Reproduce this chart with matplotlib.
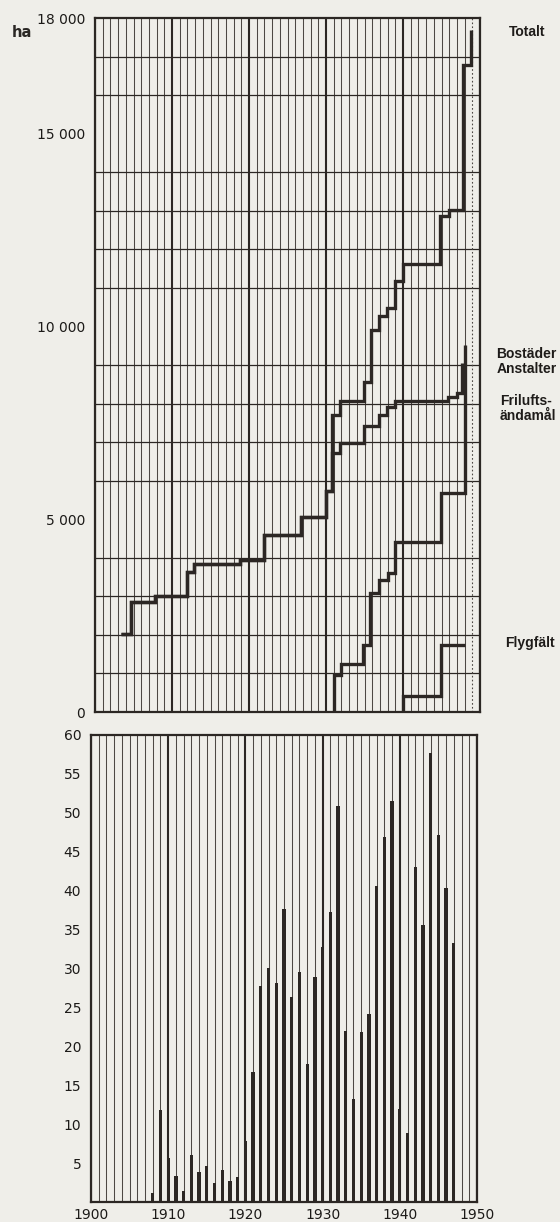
import matplotlib.pyplot as plt
import matplotlib.transforms as mtransforms
import numpy as np

plt.rcParams['font.family'] = ['DejaVu Sans']

totalt_x = [1903.4, 1904.7, 1907.8, 1911.9, 1912.9, 1918.8, 1922.0, 1926.8, 1930.0, 1930.8,
            1931.8, 1934.9, 1935.8, 1936.9, 1937.9, 1939.0, 1940.0, 1944.8, 1946.0, 1947.8, 1948.8]
totalt_y = [2020, 2850, 3020, 3640, 3830, 3930, 4590, 5060, 5740, 7710,
            8070, 8550, 9910, 10260, 10480, 11190, 11610, 12870, 13010, 16780, 17700]

bostader_x = [1903.4, 1904.7, 1907.8, 1911.9, 1912.9, 1918.8, 1922.0, 1926.8, 1930.0, 1930.8,
              1931.8, 1934.9, 1936.9, 1937.9, 1939.0, 1945.9, 1947.0, 1947.6]
bostader_y = [2020, 2850, 3020, 3640, 3830, 3930, 4590, 5060, 5740, 6720,
              6980, 7430, 7710, 7910, 8060, 8165, 8280, 9050]

frilufts_x = [1931.0, 1931.0, 1931.9, 1934.8, 1935.7, 1936.9, 1938.0, 1939.0, 1944.9, 1948.1]
frilufts_y = [0, 960, 1240, 1745, 3090, 3430, 3615, 4400, 5680, 9520]

flyg_x = [1940.0, 1940.0, 1944.9, 1948.1]
flyg_y = [0, 420, 1730, 1730]

top_ticks = [0, 5000, 10000, 15000, 18000]
top_ticklabels = ['0', '5 000', '10 000', '15 000', '18 000']

# lower panel: yearly bars
bar_years = list(range(1908, 1948))
bar_vals = [1.2, 11.8, 5.6, 3.3, 1.4, 6.0, 3.9, 4.6, 2.5, 4.1,
            2.7, 3.2, 7.9, 16.7, 27.7, 30.1, 28.2, 37.7, 26.4, 29.6,
            17.7, 28.9, 32.8, 37.3, 50.9, 22.0, 13.2, 21.9, 24.2, 40.6,
            46.9, 51.5, 11.9, 8.9, 43.0, 35.6, 57.7, 47.2, 40.4, 33.3]
decades = [1900, 1910, 1920, 1930, 1940, 1950]

paper = '#efeee9'
ink = '#2c2724'
gridc = '#4d4844'

fig = plt.figure(figsize=(5.6, 12.22), dpi=100, facecolor=paper)
ax1 = fig.add_axes([95 / 560, 1 - 712 / 1222, 385 / 560, 694 / 1222], facecolor=paper)
ax2 = fig.add_axes([91 / 560, 1 - 1202 / 1222, 386 / 560, 467 / 1222], facecolor=paper)


def grid_setup(ax, ystep, ymax):
    ax.set_xlim(1900, 1950)
    ax.set_ylim(0, ymax)
    ax.set_xticks(decades)
    ax.set_xticks(np.arange(1900, 1951, 1), minor=True)
    ax.set_yticks(np.arange(0, ymax + 1, ystep), minor=True)
    ax.grid(which='major', axis='x', color=ink, lw=1.5, zorder=1)
    ax.grid(which='minor', axis='x', color=gridc, lw=0.75, zorder=1)
    ax.grid(which='minor', axis='y', color=ink, lw=0.9, zorder=1)
    ax.tick_params(which='both', length=0)
    ax.tick_params(axis='y', pad=7, labelsize=10, labelcolor='#1c1a18')
    for s in ax.spines.values():
        s.set_linewidth(1.6)
        s.set_color(ink)
    ax.set_axisbelow(True)


grid_setup(ax1, 1000, 18000)
ax1.set_xticks([y for y in range(1900, 1951) if y != 1949], minor=True)
ax1.axvline(1949, color=gridc, lw=0.8, ls=(0, (1.5, 2)), zorder=1)
ax1.set_yticks(top_ticks)
ax1.set_yticklabels(top_ticklabels)
ax1.set_xticklabels([])

for xs, ys in [(totalt_x, totalt_y), (bostader_x, bostader_y),
               (frilufts_x, frilufts_y), (flyg_x, flyg_y)]:
    ax1.plot(xs, ys, drawstyle='steps-post', color=ink, lw=2.4, zorder=3,
             solid_joinstyle='miter', solid_capstyle='butt')

tr = mtransforms.blended_transform_factory(ax1.transAxes, ax1.transData)
ax1.text(-0.215, 17630, 'ha', transform=tr, ha='left', va='center', fontsize=10.5,
         fontweight='bold', color='#2a2724')
lab = dict(transform=tr, ha='left', va='center', fontsize=10, fontweight='bold',
           family='Liberation Sans', color='#1e1b19', linespacing=1.1)
ax1.text(1.075, 17630, 'Totalt', **lab)
ax1.text(1.043, 9080, 'Bostäder\nAnstalter', **lab)
ax1.text(1.052, 7880, 'Frilufts-\nändamål', **lab)
ax1.text(1.065, 1790, 'Flygfält', **lab)

grid_setup(ax2, 5, 60)
ax2.set_yticks(np.arange(5, 61, 5))
ax2.set_xticklabels([str(d) for d in decades])
ax2.tick_params(axis='x', pad=4, labelsize=10, labelcolor='#1c1a18')
ax2.bar(bar_years, bar_vals, width=0.42, color=ink, zorder=3)

fig.savefig('out.png', dpi=100, facecolor=paper)
